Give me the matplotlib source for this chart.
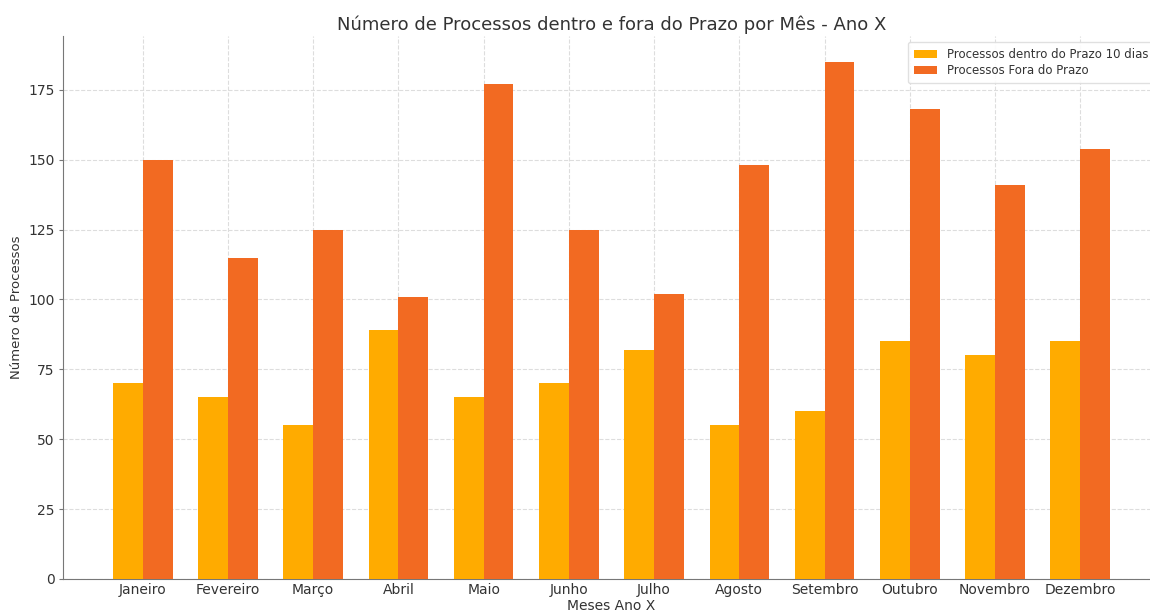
import matplotlib
matplotlib.use("Agg")
import matplotlib.pyplot as plt
import numpy as np

meses = ["Janeiro", "Fevereiro", "Março", "Abril", "Maio", "Junho", "Julho",
         "Agosto", "Setembro", "Outubro", "Novembro", "Dezembro"]
dentro_prazo = [70, 65, 55, 89, 65, 70, 82, 55, 60, 85, 80, 85]
fora_prazo = [150, 115, 125, 101, 177, 125, 102, 148, 185, 168, 141, 154]

plt.rcParams['font.family'] = ['DejaVu Sans']
plt.rcParams['text.color'] = '#333333'
plt.rcParams['axes.labelcolor'] = '#333333'
plt.rcParams['xtick.color'] = '#333333'
plt.rcParams['ytick.color'] = '#333333'

fig = plt.figure(figsize=(11.5, 6.1), dpi=100)
W, H = 1150, 610
left, right, top, bottom = 63, 1160, 36, 579
ax = fig.add_axes([left / W, (H - bottom) / H, (right - left) / W, (bottom - top) / H])

x = np.arange(len(meses))
w = 0.35
ax.bar(x - w / 2, dentro_prazo, w, color='#FFAB00', label='Processos dentro do Prazo 10 dias', zorder=3)
ax.bar(x + w / 2, fora_prazo, w, color='#F26A22', label='Processos Fora do Prazo', zorder=3)

ax.set_xticks(x)
ax.set_xticklabels(meses, fontsize=10)
ax.tick_params(axis='x', direction='in', length=3, pad=3, color='#555555')
ax.tick_params(axis='y', labelsize=10, length=3, pad=3, color='#777777')
ax.set_xlabel('Meses Ano X', fontsize=10, labelpad=1)
ax.set_ylabel('Número de Processos', fontsize=9.5, labelpad=4)
ax.set_title('Número de Processos dentro e fora do Prazo por Mês - Ano X', fontsize=13, pad=4)

ax.grid(True, linestyle='--', color='#dddddd', linewidth=0.8, zorder=0)
for s in ['top', 'right']:
    ax.spines[s].set_visible(False)
for s in ['left', 'bottom']:
    ax.spines[s].set_color('#777777')

ax.legend(loc='upper right', fontsize=8.5, framealpha=0.9, edgecolor='#dddddd',
          labelspacing=0.3, borderpad=0.5)

fig.savefig('out.png', dpi=100)
